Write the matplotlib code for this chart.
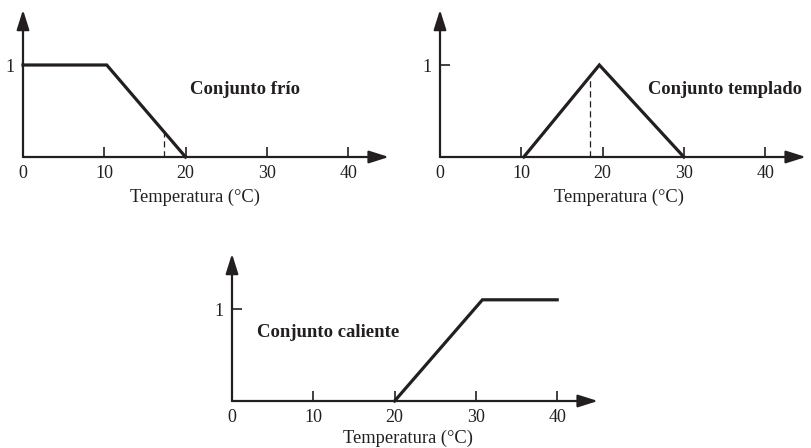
import numpy as np
import matplotlib.pyplot as plt

plt.rcParams["font.family"] = ["Liberation Serif", "DejaVu Serif"]

INK = "#231f20"

# membership functions
frio_x = [0, 10.3, 20]
frio_y = [1, 1, 0]
templado_x = [10.3, 19.6, 30]
templado_y = [0, 1, 0]
caliente_x = [20, 30.8, 40]
caliente_y = [0, 1.1, 1.1]

# dashed markers (temperature reading)
frio_marca = 17.4
templado_marca = 18.5

xticks = [0, 10, 20, 30, 40]
xlabel = "Temperatura (°C)"

W, H = 811, 448
px_x = 8.13   # pixels per degree
px_y = 92.0   # pixels per unit of membership
XMAX, YMAX = 45, 1.6

fig = plt.figure(figsize=(W / 100, H / 100), dpi=100)


def make_axes(x0, y0, label_x=0.48, label_y=-0.215):
    # x0, y0: pixel position of the origin (from top-left)
    rect = [x0 / W, (H - y0) / H, XMAX * px_x / W, YMAX * px_y / H]
    ax = fig.add_axes(rect)
    ax.set_xlim(0, XMAX)
    ax.set_ylim(0, YMAX)
    for s in ax.spines.values():
        s.set_visible(False)
    arrow = dict(arrowstyle="-|>,head_length=1.2,head_width=0.38",
                 color=INK, lw=1.6, shrinkA=0, shrinkB=0)
    ax.annotate("", xy=(XMAX, 0), xytext=(0, 0), arrowprops=arrow,
                annotation_clip=False)
    ax.annotate("", xy=(0, YMAX), xytext=(0, 0), arrowprops=arrow,
                annotation_clip=False)
    ax.set_xticks(xticks)
    ax.set_yticks([1])
    ax.tick_params(direction="in", length=7.5, width=1.2, color=INK,
                   labelcolor=INK, labelsize=13, pad=6)
    ax.set_xlabel(xlabel, fontsize=13.3, color=INK)
    ax.xaxis.set_label_coords(label_x, label_y)
    ax.patch.set_alpha(0)
    return ax


ax1 = make_axes(23, 157, 0.47)
ax1.plot(frio_x, frio_y, color=INK, lw=2.3, solid_joinstyle="miter",
         clip_on=False)
ax1.plot([frio_marca, frio_marca], [0, np.interp(frio_marca, frio_x, frio_y)],
         color=INK, lw=0.9, ls=(0, (5, 3)))
ax1.text(20.5, 0.73, "Conjunto frío", fontsize=13.5, fontweight="bold",
         color=INK, va="center")

ax2 = make_axes(440, 157, 0.49)
ax2.plot(templado_x, templado_y, color=INK, lw=2.3, solid_joinstyle="miter",
         clip_on=False)
ax2.plot([templado_marca, templado_marca],
         [0, np.interp(templado_marca, templado_x, templado_y)],
         color=INK, lw=0.9, ls=(0, (5, 3)))
ax2.text(25.6, 0.73, "Conjunto templado", fontsize=13.3, fontweight="bold",
         color=INK, va="center")

ax3 = make_axes(232, 401, 0.48, -0.195)
ax3.plot(caliente_x, caliente_y, color=INK, lw=2.3, solid_joinstyle="miter",
         clip_on=False)
ax3.text(3.1, 0.74, "Conjunto caliente", fontsize=13.5, fontweight="bold",
         color=INK, va="center")

fig.savefig("out.png", dpi=100)
